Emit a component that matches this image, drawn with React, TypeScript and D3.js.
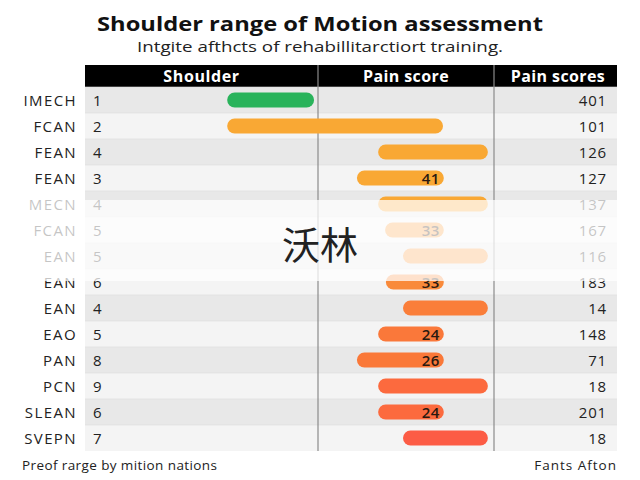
import React from "react";
import * as d3 from "d3";

const rowLabels = ["IMECH", "FCAN", "FEAN", "FEAN", "MECN", "FCAN", "EAN", "EAN", "EAN", "EAO", "PAN", "PCN", "SLEAN", "SVEPN"];
const rowNumbers = [1, 2, 4, 3, 4, 5, 5, 6, 4, 5, 8, 9, 6, 7];
const barStart = [34.6, 34.6, 71.6, 66.4, 71.6, 73.3, 77.7, 73.5, 77.7, 71.6, 66.4, 71.6, 71.6, 77.7];
const barEnd = [55.9, 87.5, 98.5, 87.7, 98.5, 87.7, 98.5, 87.7, 98.5, 87.7, 87.7, 98.5, 87.7, 98.5];
const barLabels = ["", "", "", "41", "", "33", "", "33", "", "24", "26", "", "24", ""];
const painScores = [401, 101, 126, 127, 137, 167, 116, 183, 14, 148, 71, 18, 201, 18];
const barColors = ["#29b35b", "#f9a834", "#f9a834", "#f9a834", "#f9a834", "#f9a040", "#f99a40", "#f98a3a", "#fa7e3a", "#fa783a", "#fa7838", "#fc6a3e", "#fc6a3e", "#fc5c45"];

const W = 640, H = 480;
const tableLeft = 85, tableRight = 617, headerTop = 65, headerBottom = 87;
const col1 = 318, col2 = 494;
const font = "'Open Sans', 'Noto Sans', sans-serif";

export default function App() {
  const y = d3.scaleBand<number>().domain(d3.range(rowLabels.length)).range([headerBottom, headerBottom + 26 * rowLabels.length]).padding(0);
  const x = d3.scaleLinear().domain([0, 100]).range([tableLeft + 1, col2]);
  const bh = 15;
  const tableBottom = headerBottom + 26 * rowLabels.length;
  return (
    <svg width={W} height={H} style={{ position: "absolute", left: 0, top: 0, background: "#fff" }} fontFamily={font}>
      <rect x={0} y={0} width={W} height={H} fill="#fff" />
      <text x={97} y={31} textLength={446} lengthAdjust="spacingAndGlyphs" fontSize={20} fontWeight="bold" fill="#111">Shoulder range of Motion assessment</text>
      <text x={137} y={52} textLength={366} lengthAdjust="spacingAndGlyphs" fontSize={14} fill="#222">Intgite afthcts of rehabillitarctiort training.</text>
      <rect x={tableLeft} y={headerTop} width={tableRight - tableLeft} height={headerBottom - headerTop} fill="#000" />
      <text x={(tableLeft + col1) / 2} y={81.5} textAnchor="middle" fontSize={16} letterSpacing={0.6} fontWeight="bold" fill="#fff">Shoulder</text>
      <text x={(col1 + col2) / 2} y={81.5} textAnchor="middle" fontSize={16} letterSpacing={0.4} fontWeight="bold" fill="#fff">Pain score</text>
      <text x={558} y={81.5} textAnchor="middle" fontSize={16} letterSpacing={0.4} fontWeight="bold" fill="#fff">Pain scores</text>
      {rowLabels.map((lab, i) => {
        const yy = y(i)!;
        const cy = yy + y.bandwidth() / 2;
        return (
          <g key={i}>
            <rect x={tableLeft} y={yy} width={tableRight - tableLeft} height={y.bandwidth()} fill={i % 2 === 0 ? "#e8e8e8" : "#f4f4f4"} />
            <line x1={tableLeft} x2={tableRight} y1={yy} y2={yy} stroke="#dcdcdc" strokeWidth={0.6} />
            <text x={77} y={cy + 5.5} textAnchor="end" fontSize={15} letterSpacing={1.4} fill="#222">{lab}</text>
            <text x={93} y={cy + 5.5} fontSize={15} fill="#222">{rowNumbers[i]}</text>
          </g>
        );
      })}
      <line x1={col1} x2={col1} y1={headerTop} y2={tableBottom} stroke="#8a8a8a" strokeWidth={1.2} />
      <line x1={col2} x2={col2} y1={headerTop} y2={tableBottom} stroke="#8a8a8a" strokeWidth={1.2} />
      {rowLabels.map((_, i) => {
        const cy = y(i)! + y.bandwidth() / 2;
        const x0 = x(barStart[i]);
        const x1 = x(barEnd[i]);
        return (
          <g key={"b" + i}>
            <rect x={x0} y={cy - bh / 2} width={x1 - x0} height={bh} rx={bh / 2} fill={barColors[i]} />
            {barLabels[i] && (
              <text x={x1 - 13} y={cy + 5.5} textAnchor="middle" fontSize={15} letterSpacing={0.5} fontWeight="600" fill="#2a1a10">{barLabels[i]}</text>
            )}
            <text x={607} y={cy + 5.5} textAnchor="end" fontSize={15} letterSpacing={0.8} fill="#222">{painScores[i]}</text>
          </g>
        );
      })}
      <rect x={0} y={200} width={W} height={81} fill="#fff" opacity={0.74} />
      <text x={320} y={259} textAnchor="middle" fontSize={38} fill="#222" fontFamily="'Noto Sans CJK SC', sans-serif">沃林</text>
      <text x={22} y={470} fontSize={13.5} letterSpacing={0.4} fill="#222">Preof rarge by mition nations</text>
      <text x={617} y={470} textAnchor="end" fontSize={13.5} letterSpacing={1} fill="#222">Fants Afton</text>
    </svg>
  );
}
